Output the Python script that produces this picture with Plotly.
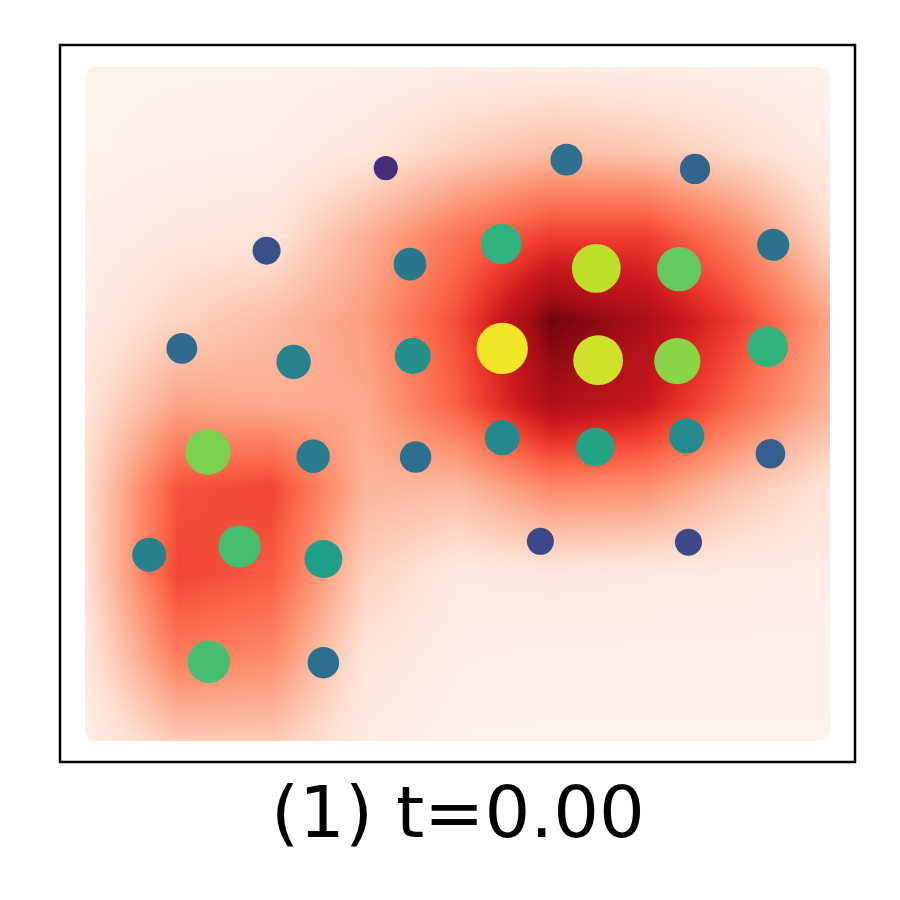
import plotly.graph_objects as go
from plotly.colors import sequential

# scatter points (grid units, heatmap spans 0..8 in both directions)
pt_x = [3.23, 5.17, 6.55, 1.95, 3.49, 4.47, 5.49, 6.38, 7.39, 1.04,
        2.24, 3.52, 4.48, 5.51, 6.36, 7.33, 1.32, 2.45, 3.55, 4.48,
        5.48, 6.46, 7.36, 4.89, 6.48, 0.69, 1.66, 2.56, 1.33, 2.56]
pt_y = [6.80, 6.90, 6.79, 5.82, 5.66, 5.90, 5.61, 5.60, 5.89, 4.66,
        4.50, 4.57, 4.66, 4.52, 4.51, 4.68, 3.43, 3.38, 3.37, 3.60,
        3.49, 3.62, 3.41, 2.37, 2.36, 2.21, 2.31, 2.16, 0.94, 0.93]
pt_val = [0.13, 0.37, 0.32, 0.25, 0.40, 0.64, 0.90, 0.76, 0.38, 0.34,
          0.45, 0.50, 0.98, 0.93, 0.82, 0.65, 0.80, 0.42, 0.36, 0.47,
          0.58, 0.48, 0.30, 0.22, 0.22, 0.44, 0.70, 0.56, 0.70, 0.36]

# background intensity field, read on a 9x9 grid (rows bottom -> top)
grid_x = [0, 1, 2, 3, 4, 5, 6, 7, 8]
grid_y = [0, 1, 2, 3, 4, 5, 6, 7, 8]
field = [
    [0.04, 0.20, 0.20, 0.06, 0.02, 0.02, 0.02, 0.02, 0.02],
    [0.08, 0.44, 0.40, 0.10, 0.04, 0.03, 0.03, 0.03, 0.03],
    [0.12, 0.60, 0.54, 0.18, 0.07, 0.08, 0.07, 0.06, 0.05],
    [0.13, 0.56, 0.60, 0.27, 0.25, 0.40, 0.38, 0.22, 0.10],
    [0.10, 0.32, 0.30, 0.30, 0.53, 0.85, 0.76, 0.50, 0.27],
    [0.06, 0.17, 0.24, 0.34, 0.58, 0.98, 0.86, 0.62, 0.32],
    [0.04, 0.08, 0.10, 0.28, 0.47, 0.62, 0.62, 0.42, 0.14],
    [0.02, 0.03, 0.04, 0.09, 0.18, 0.24, 0.21, 0.14, 0.05],
    [0.02, 0.02, 0.02, 0.03, 0.05, 0.06, 0.05, 0.04, 0.02],
]

title = "(1) t=0.00"

fig = go.Figure()
fig.add_heatmap(x=grid_x, y=grid_y, z=field, colorscale=sequential.Reds,
                zmin=0, zmax=1, zsmooth="best", showscale=False, hoverinfo="skip")
fig.add_scatter(
    x=pt_x, y=pt_y, mode="markers",
    marker=dict(color=pt_val, colorscale="Viridis", cmin=0, cmax=1,
                size=[20 + 32 * v for v in pt_val], line=dict(width=0), opacity=1),
    showlegend=False,
)

# white margins around the field, rounded corners, then the frame
white = dict(fillcolor="white", line=dict(width=0), layer="above")
for x0, x1, y0, y1 in [(-1, 0, -1, 9), (8, 9, -1, 9), (-1, 9, -1, 0), (-1, 9, 8, 9)]:
    fig.add_shape(type="rect", xref="x", yref="y", x0=x0, x1=x1, y0=y0, y1=y1, **white)
r = 14
for cx, cy, sx, sy in [(0, 0, 1, 1), (8, 0, -1, 1), (0, 8, 1, -1), (8, 8, -1, -1)]:
    path = f"M0,0 L{sx * r},0 Q0,0 0,{sy * r} Z"
    fig.add_shape(type="path", xref="x", yref="y", xsizemode="pixel", ysizemode="pixel",
                  xanchor=cx, yanchor=cy, path=path, **white)
fig.add_shape(type="rect", xref="paper", yref="paper", x0=0, x1=1, y0=0, y1=1,
              line=dict(color="black", width=2.5), layer="above")

fig.add_annotation(text=title, xref="paper", yref="paper", x=0.5, y=-0.07,
                   xanchor="center", yanchor="middle", showarrow=False,
                   font=dict(family="DejaVu Sans", size=72, color="black"))

fig.update_xaxes(range=[-0.268, 8.268], visible=False)
fig.update_yaxes(range=[-0.249, 8.261], visible=False)
fig.update_layout(width=900, height=900, margin=dict(l=52, r=53, t=37, b=146),
                  plot_bgcolor="white", paper_bgcolor="white")

fig.write_html("out.html")
